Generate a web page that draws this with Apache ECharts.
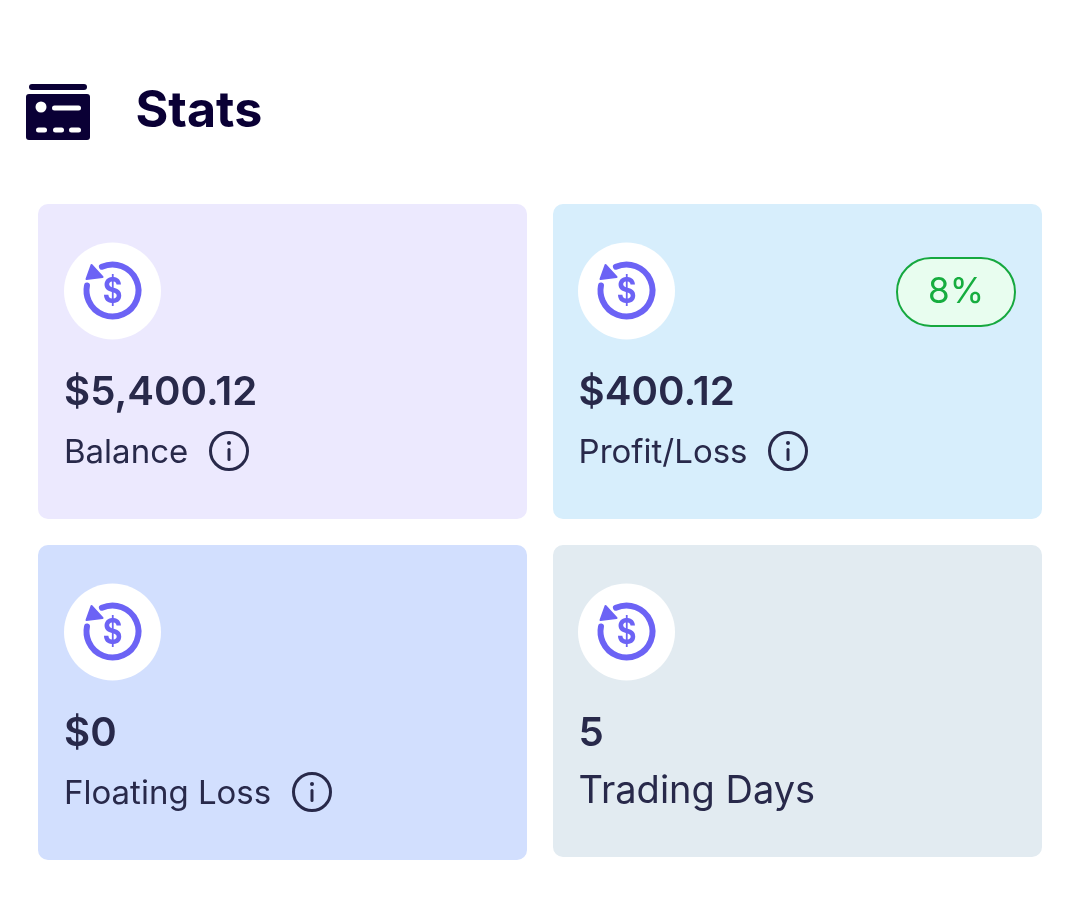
<!DOCTYPE html>
<html>
<head>
<meta charset="utf-8">
<style>html,body{margin:0;padding:0;background:#fff}#main{width:1080px;height:902px}</style>
<script src="https://cdn.jsdelivr.net/npm/echarts@6/dist/echarts.min.js"></script>
</head>
<body>
<div id="main"></div>
<script>
const title = 'Stats';
const cardValues = ['$5,400.12', '$400.12', '$0', '5'];
const cardLabels = ['Balance', 'Profit/Loss', 'Floating Loss', 'Trading Days'];
const badgeText = '8%';

const cardColors = ['#ece9fe', '#d7eefc', '#d2dffe', '#e2ebf1'];
const inkColor = '#28294a';
const iconColor = '#6c63f5';
const navy = '#0a0035';
const cardLeft = [38, 553, 38, 553];
const cardTop = [204, 204, 545, 545];
const cardHeight = [315, 315, 315, 312];
const contentLeft = [64, 578.6, 64, 578.6];
const iconCx = [112.5, 626.5, 112.5, 626.5];
const infoX = [229, 788, 312, null];

const chart = echarts.init(document.getElementById('main'));
const g = [];

function box(x, y, w, h, r, fill) {
  g.push({ type: 'rect', shape: { x, y, width: w, height: h, r }, style: { fill } });
}
function label(x, y, text, size, weight, fill, align, sx) {
  g.push({ type: 'text', x, y, scaleX: sx || 1, style: { text, fill, align: align || 'left', verticalAlign: 'middle',
    font: weight + ' ' + size + 'px Inter' } });
}

// header icon
box(29, 84, 58, 6, 3, navy);
box(26, 94, 64, 46, 3, navy);
g.push({ type: 'circle', shape: { cx: 41, cy: 107, r: 5.5 }, style: { fill: '#fff' } });
box(52, 105.5, 29, 5, 2.5, '#fff');
box(36, 127.5, 11, 5, 2.5, '#fff');
box(53, 127.5, 11, 5, 2.5, '#fff');
box(69, 127.5, 12, 5, 2.5, '#fff');
label(135.5, 112, title, 50.2, 700, navy);

function dollarIcon(cx, cy) {
  g.push({ type: 'circle', shape: { cx, cy, r: 48.5 }, style: { fill: '#fff' } });
  g.push({ type: 'arc',
    shape: { cx, cy: cy - 0.5, r: 26, startAngle: 246 * Math.PI / 180, endAngle: 551 * Math.PI / 180, clockwise: true },
    style: { fill: 'none', stroke: iconColor, lineWidth: 6, lineCap: 'round' } });
  g.push({ type: 'polygon', shape: { points: [[cx - 21, cy - 26], [cx - 26, cy - 12], [cx - 10, cy - 14]] },
    style: { fill: iconColor, stroke: iconColor, lineWidth: 2, lineJoin: 'round' } });
  label(cx, cy + 1, '$', 35, 700, iconColor, 'center', 0.86);
}

function infoIcon(cx, cy) {
  g.push({ type: 'circle', shape: { cx, cy, r: 18.5 }, style: { fill: 'none', stroke: inkColor, lineWidth: 3 } });
  g.push({ type: 'circle', shape: { cx, cy: cy - 8, r: 2 }, style: { fill: inkColor } });
  box(cx - 1.5, cy - 3, 3, 13, 1.5, inkColor);
}

cardValues.forEach((value, i) => {
  const x = cardLeft[i], y = cardTop[i];
  box(x, y, 489, cardHeight[i], 10, cardColors[i]);
  dollarIcon(iconCx[i], y + 87);
  label(contentLeft[i], y + 188.5, value, 40.2, 600, inkColor);
  const isLast = i === 3;
  label(contentLeft[i], y + (isLast ? 247 : 249), cardLabels[i], isLast ? 38 : 33, 400, inkColor);
  if (infoX[i] !== null) infoIcon(infoX[i], y + 247);
});

// badge on the profit card
g.push({ type: 'rect', shape: { x: 897, y: 258, width: 118, height: 68, r: 34 },
  style: { fill: '#e8fdef', stroke: '#16a83f', lineWidth: 2 } });
label(956, 292, badgeText, 35, 400, '#16ad3f', 'center');

chart.setOption({ animation: false, graphic: { elements: g } });
</script>
</body>
</html>
